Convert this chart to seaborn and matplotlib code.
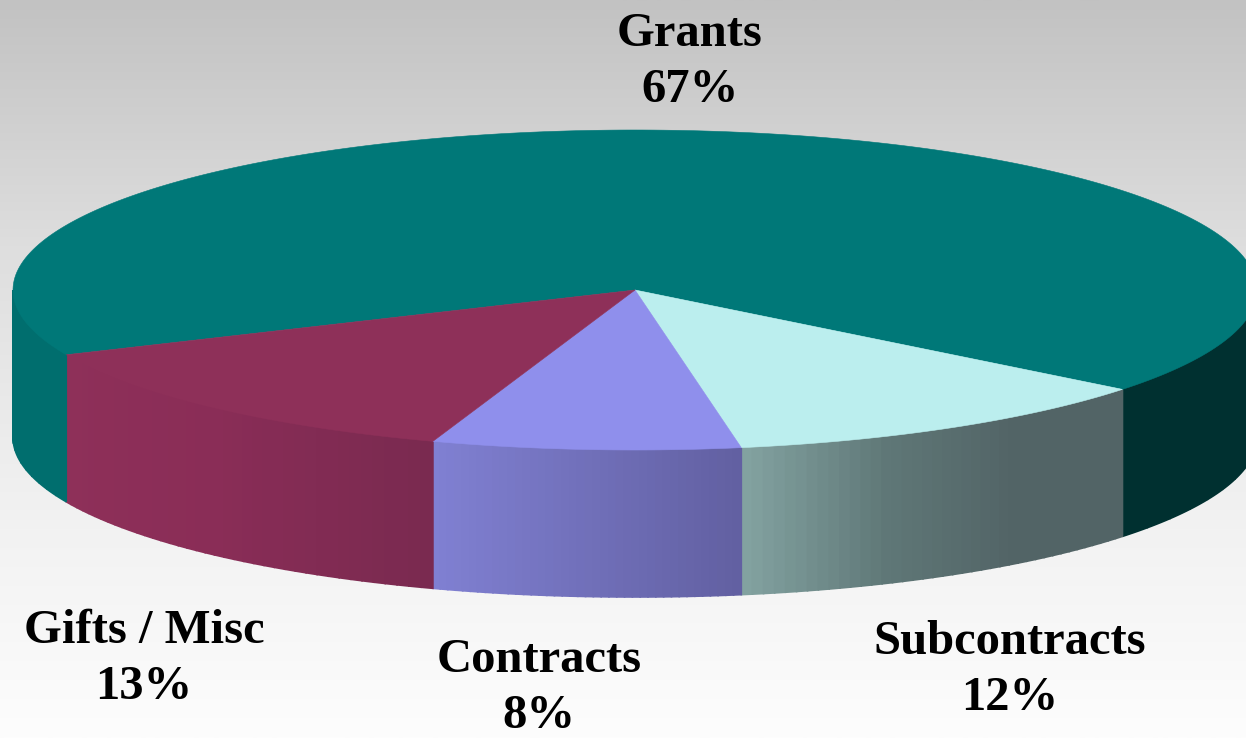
import numpy as np
import matplotlib
matplotlib.use("Agg")
import matplotlib.pyplot as plt
import seaborn as sns

LABELS = ["Grants", "Subcontracts", "Contracts", "Gifts / Misc"]
SHARES = [67.3, 11.6, 8.0, 13.1]  # labels show them rounded
TOP_COLORS = ["#007878", "#bbeeee", "#8f8fec", "#8e3059"]
# wall shading, left to right
WALL_COLORS = [["#006e6e", "#003030"], ["#82a2a0", "#5f7777", "#526466", "#526466"],
               ["#8080d2", "#6260a2"], ["#8e3059", "#8a2d57", "#7a2a50"]]
LABEL_POS = [(690, 62), (1010, 670), (539, 688), (144, 659)]

CX, CY = 635, 290
RX, RY = 622, 160
DEPTH = 147
START = -38.4  # boundary Grants / Subcontracts


def ell(theta):
    t = np.radians(theta)
    return CX + RX * np.cos(t), CY - RY * np.sin(t)


def draw_wall(ax, t0, t1, colors, n=40):
    """strips from t0 to t1 (degrees, t0 left of t1)"""
    edges = np.linspace(t0, t1, n + 1)
    pal = sns.blend_palette(colors, n)
    for i in range(n):
        th = np.linspace(edges[i], edges[i + 1], 6)
        x, y = ell(th)
        ax.fill(np.r_[x, x[::-1]], np.r_[y, y[::-1] + DEPTH],
                color=pal[i], lw=1.2, zorder=2 + i * 0.001)


sns.set_theme(style="white")
plt.rcParams["font.family"] = ["Liberation Serif", "DejaVu Serif"]

fig = plt.figure(figsize=(12.46, 7.38), dpi=100)
ax = fig.add_axes([0, 0, 1, 1])

bg = sns.blend_palette(["#c2c2c2", "#dedede", "#f0f0f0", "#fdfdfd"], 256, as_cmap=True)
ax.imshow(np.linspace(0, 1, 256)[:, None], extent=(0, 1246, 738, 0), cmap=bg,
          aspect="auto", zorder=0)

# slice boundaries going clockwise, Grants wraps round the back
sweeps = np.array(SHARES) / sum(SHARES) * 360
begins = START + sweeps[0] - np.r_[0, np.cumsum(sweeps)[:-1]]
ends = begins - sweeps

# walls (front half only), one after the other from the left
draw_wall(ax, -180, begins[0] - 360, [WALL_COLORS[0][0]] * 2, 10)
draw_wall(ax, ends[0], 0, [WALL_COLORS[0][1]] * 2, 10)
for i in (1, 2, 3):
    draw_wall(ax, ends[i], begins[i], WALL_COLORS[i])

# top face
for i in range(4):
    th = np.linspace(begins[i], ends[i], 240)
    x, y = ell(th)
    ax.fill(np.r_[CX, x], np.r_[CY, y], color=TOP_COLORS[i], lw=0.4, zorder=3)

for lab, share, (lx, ly) in zip(LABELS, SHARES, LABEL_POS):
    ax.text(lx, ly, f"{lab}\n{share:.0f}%", ha="center", va="center", fontsize=35,
            fontweight="bold", color="black", linespacing=1.38, zorder=4)

ax.set_xlim(0, 1246)
ax.set_ylim(738, 0)
ax.axis("off")
fig.savefig("out.png", dpi=100)
